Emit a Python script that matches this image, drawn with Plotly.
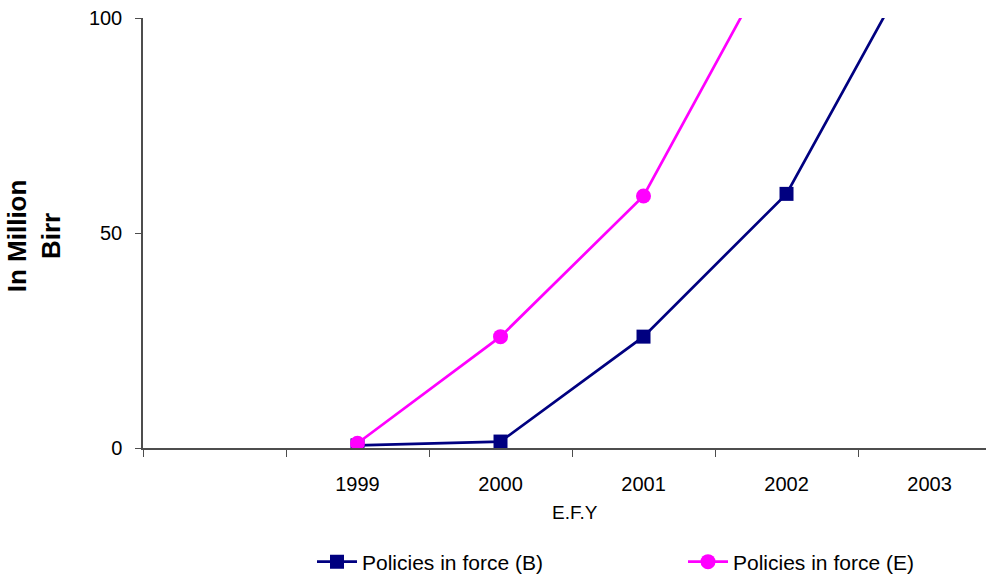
import plotly.graph_objects as go

years = [1999, 2000, 2001, 2002, 2003]
year_labels = ["1999", "2000", "2001", "2002", "2003"]
policies_b = [0.6, 1.5, 25.9, 59.1, 119.5]
policies_e = [1.1, 25.9, 58.6, 119.6, 185.0]
y_ticks = [0, 50, 100]

FONT = "Liberation Sans, Arial, sans-serif"
AXIS_COLOR = "#4d4d4d"

fig = go.Figure()
fig.add_trace(go.Scatter(
    x=years, y=policies_b, mode="lines+markers", name="Policies in force (B)",
    line=dict(color="#000080", width=2.7),
    marker=dict(symbol="square", size=14, color="#000080"),
    legend="legend",
))
fig.add_trace(go.Scatter(
    x=years, y=policies_e, mode="lines+markers", name="Policies in force (E)",
    line=dict(color="#FF00FF", width=2.7),
    marker=dict(symbol="circle", size=15, color="#FF00FF"),
    legend="legend2",
))

legend_common = dict(
    orientation="h", yref="container", yanchor="middle", y=0.0277,
    xref="container", xanchor="left",
    font=dict(size=21, family=FONT), itemwidth=40, bgcolor="rgba(0,0,0,0)",
)

fig.update_layout(
    width=986, height=578,
    margin=dict(l=143, r=0, t=18, b=130),
    paper_bgcolor="white", plot_bgcolor="white",
    font=dict(family=FONT, size=20, color="black"),
    showlegend=True,
    legend=dict(x=312 / 986, **legend_common),
    legend2=dict(x=683 / 986, **legend_common),
    xaxis=dict(
        range=[1997.5, 2003.395],
        tickvals=years, ticktext=year_labels, ticks="",
        ticklabelstandoff=17, automargin=False,
        minor=dict(tickvals=[1997.5, 1998.5, 1999.5, 2000.5, 2001.5, 2002.5],
                   ticks="outside", ticklen=7, tickcolor=AXIS_COLOR, showgrid=False),
        showline=True, linecolor=AXIS_COLOR, linewidth=1.5,
        showgrid=False, zeroline=False,
        tickfont=dict(size=20, family=FONT),
    ),
    yaxis=dict(
        range=[0, 100], tickvals=y_ticks, ticks="outside", ticklen=6,
        tickcolor=AXIS_COLOR, showline=True, linecolor=AXIS_COLOR, linewidth=1.5,
        showgrid=False, zeroline=False, automargin=False, ticklabelstandoff=9,
        tickfont=dict(size=20, family=FONT),
    ),
    annotations=[
        dict(
            text="<b>In Million<br>Birr</b>", xref="paper", yref="paper",
            x=-0.129, y=0.493, xanchor="center", yanchor="middle", textangle=-90,
            showarrow=False, font=dict(size=26, family=FONT), align="center",
        ),
        dict(
            text="E.F.Y", xref="paper", yref="paper",
            x=0.512, y=-0.151, xanchor="center", yanchor="middle",
            showarrow=False, font=dict(size=19, family=FONT),
        ),
    ],
)

fig.write_html(
    "out.html",
    config={"displayModeBar": False},
    post_script="document.body.style.margin='0';document.body.style.overflow='hidden';",
)
